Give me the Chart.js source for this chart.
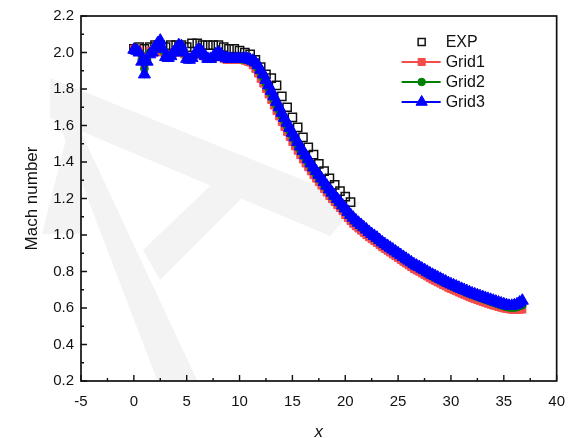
<!DOCTYPE html>
<html lang="en">
<head>
<meta charset="UTF-8">
<title>Mach number along x</title>
<script src="https://cdn.jsdelivr.net/npm/chart.js"></script>
<style>
  body { margin: 0; background: #fff; }
  #wrap { width: 577px; height: 438px; }
</style>
</head>
<body>
<div id="wrap"><canvas id="machChart" width="577" height="438"></canvas></div>
<script>
// experiment
const expX = [0, 0.5, 1, 1.5, 2, 2.5, 3, 3.5, 4, 4.5, 5, 5.5, 6, 6.5, 7, 7.5, 8, 8.5, 9, 9.5,
  10, 10.5, 11, 11.5, 12, 12.5, 13, 13.5, 14, 14.5, 15, 15.5, 16, 16.5, 17, 17.5, 18, 18.5, 19, 19.5, 20, 20.5];
const expMach = [2.02, 2.03, 2.02, 2.03, 2.04, 2.04, 2.03, 2.04, 2.04, 2.04, 2.03, 2.05, 2.05, 2.04, 2.04, 2.04, 2.04, 2.03, 2.02, 2.02,
  2.01, 2.00, 1.99, 1.96, 1.92, 1.88, 1.86, 1.82, 1.76, 1.70, 1.645, 1.59, 1.535, 1.48, 1.44, 1.39, 1.35, 1.31, 1.275, 1.24, 1.21, 1.18];

// simulations on three meshes, same stations
const gridX = [
  0, 0.25, 0.5, 0.75, 1, 1.25, 1.5, 1.75, 2, 2.25, 2.5, 2.75, 3, 3.25, 3.5, 3.75, 4, 4.25, 4.5, 4.75,
  5, 5.25, 5.5, 5.75, 6, 6.25, 6.5, 6.75, 7, 7.25, 7.5, 7.75, 8, 8.25, 8.5, 8.75, 9, 9.25, 9.5, 9.75,
  10, 10.25, 10.5, 10.75, 11, 11.25, 11.5, 11.75, 12, 12.25, 12.5, 12.75, 13, 13.25, 13.5, 13.75, 14, 14.25, 14.5, 14.75,
  15, 15.25, 15.5, 15.75, 16, 16.25, 16.5, 16.75, 17, 17.25, 17.5, 17.75, 18, 18.25, 18.5, 18.75, 19, 19.25, 19.5, 19.75,
  20, 20.25, 20.5, 20.75, 21, 21.25, 21.5, 21.75, 22, 22.25, 22.5, 22.75, 23, 23.25, 23.5, 23.75, 24, 24.25, 24.5, 24.75,
  25, 25.25, 25.5, 25.75, 26, 26.25, 26.5, 26.75, 27, 27.25, 27.5, 27.75, 28, 28.25, 28.5, 28.75, 29, 29.25, 29.5, 29.75,
  30, 30.25, 30.5, 30.75, 31, 31.25, 31.5, 31.75, 32, 32.25, 32.5, 32.75, 33, 33.25, 33.5, 33.75, 34, 34.25, 34.5, 34.75,
  35, 35.25, 35.5, 35.75, 36, 36.25, 36.5, 36.75];
const grid1Mach = [
  2.02, 2.02, 2.01, 1.97, 1.93, 1.97, 2.01, 2.00, 2.00, 2.02, 2.03, 2.00, 1.98, 1.975, 1.985, 1.995, 2.00, 2.01, 2.01, 1.99,
  1.97, 1.965, 1.975, 1.985, 1.99, 1.99, 1.985, 1.975, 1.965, 1.965, 1.97, 1.975, 1.98, 1.975, 1.965, 1.96, 1.96, 1.96, 1.96, 1.96,
  1.96, 1.96, 1.955, 1.95, 1.945, 1.93, 1.91, 1.885, 1.855, 1.83, 1.80, 1.77, 1.74, 1.71, 1.68, 1.65, 1.62, 1.592, 1.565, 1.537,
  1.51, 1.486, 1.462, 1.438, 1.414, 1.392, 1.371, 1.349, 1.328, 1.309, 1.29, 1.271, 1.252, 1.233, 1.214, 1.197, 1.181, 1.164, 1.148, 1.131,
  1.11, 1.093, 1.077, 1.062, 1.048, 1.036, 1.024, 1.012, 1.00, 0.988, 0.977, 0.967, 0.957, 0.945, 0.933, 0.924, 0.914, 0.904, 0.894, 0.884,
  0.874, 0.864, 0.854, 0.844, 0.834, 0.824, 0.814, 0.806, 0.799, 0.79, 0.782, 0.773, 0.764, 0.756, 0.749, 0.741, 0.734, 0.726, 0.719, 0.711,
  0.704, 0.698, 0.692, 0.685, 0.679, 0.673, 0.667, 0.66, 0.654, 0.649, 0.644, 0.639, 0.634, 0.629, 0.624, 0.619, 0.614, 0.61, 0.606, 0.602,
  0.598, 0.595, 0.593, 0.591, 0.59, 0.59, 0.591, 0.592];
const grid2Mach = [
  2.01, 2.01, 2.00, 1.96, 1.91, 1.96, 2.00, 2.00, 2.02, 2.04, 2.05, 2.01, 1.975, 1.97, 1.98, 1.995, 2.01, 2.03, 2.025, 1.995,
  1.965, 1.96, 1.97, 1.985, 2.00, 2.005, 1.995, 1.98, 1.965, 1.965, 1.97, 1.98, 1.99, 1.985, 1.97, 1.965, 1.965, 1.965, 1.965, 1.965,
  1.965, 1.962, 1.96, 1.958, 1.955, 1.945, 1.93, 1.91, 1.885, 1.86, 1.83, 1.80, 1.77, 1.74, 1.71, 1.68, 1.65, 1.622, 1.595, 1.567,
  1.54, 1.515, 1.49, 1.465, 1.44, 1.417, 1.395, 1.373, 1.352, 1.332, 1.312, 1.292, 1.273, 1.254, 1.235, 1.217, 1.20, 1.182, 1.165, 1.148,
  1.132, 1.115, 1.098, 1.083, 1.068, 1.055, 1.042, 1.03, 1.018, 1.006, 0.994, 0.984, 0.973, 0.961, 0.95, 0.94, 0.93, 0.92, 0.91, 0.90,
  0.89, 0.88, 0.87, 0.86, 0.85, 0.84, 0.831, 0.823, 0.815, 0.806, 0.798, 0.789, 0.781, 0.773, 0.766, 0.758, 0.751, 0.743, 0.736, 0.729,
  0.722, 0.715, 0.709, 0.702, 0.696, 0.69, 0.684, 0.678, 0.672, 0.666, 0.661, 0.655, 0.65, 0.645, 0.64, 0.635, 0.63, 0.625, 0.62, 0.615,
  0.61, 0.606, 0.603, 0.602, 0.602, 0.605, 0.61, 0.615];
const grid3Mach = [
  2.015, 2.01, 2.00, 1.95, 1.88, 1.95, 1.99, 2.00, 2.03, 2.05, 2.065, 2.02, 1.975, 1.97, 1.98, 2.00, 2.02, 2.04, 2.035, 2.00,
  1.965, 1.96, 1.97, 1.99, 2.01, 2.015, 2.00, 1.98, 1.965, 1.965, 1.975, 1.99, 2.00, 1.99, 1.975, 1.97, 1.965, 1.965, 1.965, 1.965,
  1.965, 1.965, 1.965, 1.965, 1.96, 1.955, 1.945, 1.93, 1.905, 1.88, 1.85, 1.82, 1.79, 1.76, 1.73, 1.70, 1.67, 1.642, 1.615, 1.587,
  1.56, 1.535, 1.51, 1.485, 1.46, 1.437, 1.415, 1.392, 1.37, 1.35, 1.33, 1.31, 1.29, 1.27, 1.25, 1.232, 1.215, 1.197, 1.18, 1.162,
  1.145, 1.127, 1.11, 1.095, 1.08, 1.067, 1.055, 1.042, 1.03, 1.017, 1.005, 0.995, 0.985, 0.972, 0.96, 0.95, 0.94, 0.93, 0.92, 0.91,
  0.90, 0.89, 0.88, 0.87, 0.86, 0.85, 0.84, 0.832, 0.825, 0.816, 0.808, 0.799, 0.79, 0.782, 0.775, 0.767, 0.76, 0.752, 0.745, 0.737,
  0.73, 0.724, 0.718, 0.711, 0.705, 0.699, 0.693, 0.686, 0.68, 0.675, 0.67, 0.665, 0.66, 0.655, 0.65, 0.645, 0.64, 0.635, 0.63, 0.625,
  0.62, 0.616, 0.612, 0.612, 0.615, 0.62, 0.63, 0.64];

const xTicks = [-5, 0, 5, 10, 15, 20, 25, 30, 35, 40];
const yTicks = [0.2, 0.4, 0.6, 0.8, 1.0, 1.2, 1.4, 1.6, 1.8, 2.0, 2.2];

const toPoints = (xs, ys) => xs.map((v, i) => ({ x: v, y: ys[i] }));

const FONT = "'Liberation Sans', Arial, sans-serif";

// faint background logo behind the plot
const backdrop = {
    id: 'backdrop',
    beforeDraw(chart) {
        const ctx = chart.ctx;
        const shapes = [
            [[50, 78], [360, 203], [330, 236], [50, 118]],
            [[50, 100], [66, 100], [197, 380], [157, 380]],
            [[143, 250], [213, 183], [243, 197], [160, 280]],
            [[80, 84], [82, 84], [82, 234], [42, 234]]
        ];
        ctx.save();
        ctx.fillStyle = '#f3f3f3';
        shapes.forEach(pts => {
            ctx.beginPath();
            pts.forEach(([px, py], i) => i ? ctx.lineTo(px, py) : ctx.moveTo(px, py));
            ctx.closePath();
            ctx.fill();
        });
        ctx.restore();
    }
};

// box frame with inward major/minor ticks on bottom and left
const frameTicks = {
    id: 'frameTicks',
    afterDraw(chart) {
        const { ctx, chartArea: a, scales: { x, y } } = chart;
        ctx.save();
        ctx.strokeStyle = '#111';
        ctx.lineWidth = 1.4;
        ctx.beginPath();
        xTicks.forEach((v, i) => {
            const px = x.getPixelForValue(v);
            ctx.moveTo(px, a.bottom); ctx.lineTo(px, a.bottom - 6);
            if (i < xTicks.length - 1) {
                const mx = x.getPixelForValue((v + xTicks[i + 1]) / 2);
                ctx.moveTo(mx, a.bottom); ctx.lineTo(mx, a.bottom - 3);
            }
        });
        yTicks.forEach((v, i) => {
            const py = y.getPixelForValue(v);
            ctx.moveTo(a.left, py); ctx.lineTo(a.left + 6, py);
            if (i < yTicks.length - 1) {
                const my = y.getPixelForValue((v + yTicks[i + 1]) / 2);
                ctx.moveTo(a.left, my); ctx.lineTo(a.left + 3, my);
            }
        });
        ctx.stroke();
        ctx.lineWidth = 1.7;
        ctx.strokeRect(a.left, a.top, a.right - a.left, a.bottom - a.top);
        ctx.restore();
    }
};

function drawMarker(ctx, style, r, x, y) {
    if (style === 'rect') {
        const s = r * Math.SQRT1_2;
        ctx.rect(x - s, y - s, 2 * s, 2 * s);
    } else if (style === 'circle') {
        ctx.arc(x, y, r, 0, Math.PI * 2);
    } else {
        ctx.moveTo(x, y - r);
        ctx.lineTo(x + r * 0.866, y + r / 2);
        ctx.lineTo(x - r * 0.866, y + r / 2);
        ctx.closePath();
    }
}

// legend drawn inside the plot, marker on a short line
const insideLegend = {
    id: 'insideLegend',
    afterDraw(chart) {
        const { ctx, chartArea: a } = chart;
        const x0 = a.right - 155, y0 = a.top + 26, rowH = 20;
        ctx.save();
        ctx.font = '16px ' + FONT;
        ctx.textBaseline = 'middle';
        chart.data.datasets.forEach((ds, i) => {
            const cy = y0 + i * rowH;
            const cx = x0 + 20;
            if (ds.showLine !== false) {
                ctx.strokeStyle = ds.borderColor;
                ctx.lineWidth = 2;
                ctx.beginPath();
                ctx.moveTo(x0, cy); ctx.lineTo(x0 + 39, cy);
                ctx.stroke();
            }
            const r = ds.legendRadius || ds.pointRadius;
            ctx.fillStyle = ds.pointBackgroundColor;
            ctx.strokeStyle = ds.pointBorderColor;
            ctx.lineWidth = ds.pointBorderWidth || 1;
            ctx.beginPath();
            drawMarker(ctx, ds.pointStyle, r, cx, cy);
            ctx.fill();
            ctx.stroke();
            ctx.fillStyle = '#111';
            ctx.fillText(ds.label, x0 + 44, cy + 1);
        });
        ctx.restore();
    }
};

const ctx = document.getElementById('machChart').getContext('2d');
new Chart(ctx, {
    type: 'scatter',
    data: {
        datasets: [
            {
                label: 'EXP',
                data: toPoints(expX, expMach),
                showLine: false,
                pointStyle: 'rect',
                pointRadius: 5.8,
                legendRadius: 5,
                pointBorderWidth: 1.5,
                pointBackgroundColor: 'rgba(0,0,0,0)',
                pointBorderColor: '#111',
                borderColor: '#111',
                order: 3
            },
            {
                label: 'Grid1',
                data: toPoints(gridX, grid1Mach),
                showLine: true,
                borderColor: '#f44b4b',
                borderWidth: 2,
                pointStyle: 'rect',
                pointRadius: 5,
                pointBorderWidth: 1,
                pointBackgroundColor: '#f44b4b',
                pointBorderColor: '#f44b4b',
                order: 2
            },
            {
                label: 'Grid2',
                data: toPoints(gridX, grid2Mach),
                showLine: true,
                borderColor: '#008000',
                borderWidth: 2,
                pointStyle: 'circle',
                pointRadius: 3.8,
                pointBorderWidth: 1,
                pointBackgroundColor: '#008000',
                pointBorderColor: '#008000',
                order: 1
            },
            {
                label: 'Grid3',
                data: toPoints(gridX, grid3Mach),
                showLine: true,
                borderColor: '#0000ff',
                borderWidth: 2,
                pointStyle: 'triangle',
                pointRadius: 7,
                legendRadius: 6.5,
                pointBorderWidth: 1,
                pointBackgroundColor: '#0000ff',
                pointBorderColor: '#0000ff',
                order: 0
            }
        ]
    },
    options: {
        responsive: false,
        animation: false,
        layout: { padding: { top: 16, right: 15, left: 0, bottom: 0 } },
        plugins: {
            legend: { display: false },
            tooltip: { enabled: false }
        },
        scales: {
            x: {
                type: 'linear',
                min: -5,
                max: 40,
                afterFit: s => { s.height = 57; },
                afterBuildTicks: s => { s.ticks = xTicks.map(v => ({ value: v })); },
                grid: { display: false, drawTicks: false },
                border: { display: false },
                ticks: { color: '#111', padding: 12, font: { size: 15, family: FONT } },
                title: { display: true, text: 'x', color: '#111', padding: { top: 0, bottom: -3 },
                    font: { size: 17, family: FONT, style: 'italic', lineHeight: 1 } }
            },
            y: {
                type: 'linear',
                min: 0.2,
                max: 2.2,
                afterFit: s => { s.width = 81; },
                afterBuildTicks: s => { s.ticks = yTicks.map(v => ({ value: v })); },
                grid: { display: false, drawTicks: false },
                border: { display: false },
                ticks: { color: '#111', padding: 7, font: { size: 15, family: FONT },
                    callback: v => v.toFixed(1) },
                title: { display: true, text: 'Mach number', color: '#111', padding: { top: 22, bottom: 0 },
                    font: { size: 17, family: FONT } }
            }
        }
    },
    plugins: [backdrop, frameTicks, insideLegend]
});
</script>
</body>
</html>
